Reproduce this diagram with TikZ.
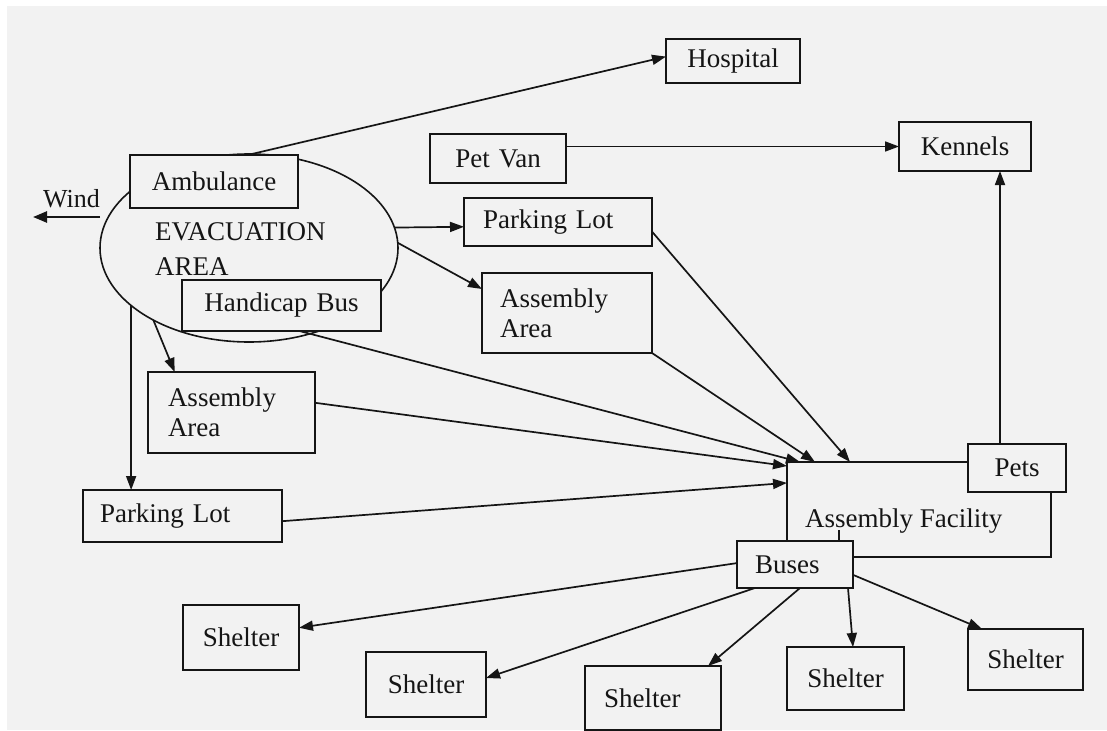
\documentclass[tikz,border=0pt]{standalone}
\usepackage{fontspec}
\setmainfont{Liberation Serif}
\usetikzlibrary{shapes.geometric,arrows.meta,calc}
\definecolor{bg}{HTML}{F2F2F2}
\definecolor{ln}{HTML}{151515}
\newcommand\fsz{\fontsize{27}{30}\selectfont}
\begin{document}
\begin{tikzpicture}[x=1pt,y=-1pt,
  box/.style={draw=ln, fill=bg, line width=1.8pt, anchor=north west, inner ysep=0pt, outer sep=0pt, font=\fsz, text=ln},
  conn/.style={draw=ln, line width=1.7pt, -{Triangle[length=14pt,width=10pt]}},
  lbl/.style={anchor=base west, font=\fsz, text=ln, inner sep=0pt}]
\useasboundingbox (0,0) rectangle (1107,730);
\fill[white] (0,0) rectangle (1107,730);
\fill[bg] (7,6) rectangle (1107,730);
% evacuation area
\node[ellipse, draw=ln, line width=1.6pt, minimum width=298pt, minimum height=188pt, inner sep=0pt, outer sep=0pt] (ev) at (249,248) {};
\node[lbl] (ev1) at (155,240) {EVACUATION};
\node[lbl] (ev2) at (155,275) {AREA};
% boxes
\node[box, inner xsep=0pt, text width=134pt, align=center, minimum height=44pt] (hosp) at (666,39) {Hospital};
\node[box, inner xsep=0pt, text width=136pt, align=center, minimum height=49pt] (pet) at (430,134) {Pet Van};
\node[box, inner xsep=0pt, text width=132pt, align=center, minimum height=49pt] (ken) at (899,122) {Kennels};
\node[box, inner xsep=0pt, text width=168pt, align=center, minimum height=53pt] (amb) at (130,155) {Ambulance};
\node[box, inner xsep=0pt, text width=199pt, align=center, minimum height=51pt] (hb) at (182,280) {Handicap Bus};
\node[box, inner xsep=19pt, text width=150pt, align=left, minimum height=48pt] (pt) at (464,198) {Parking Lot};
\node[box, inner xsep=18pt, text width=134pt, align=left, minimum height=80pt] (aat) at (482,273) {Assembly\\Area};
\node[box, inner xsep=20pt, text width=127pt, align=left, minimum height=81pt] (aal) at (148,372) {Assembly\\Area};
\node[box, inner xsep=17pt, text width=165pt, align=left, minimum height=52pt] (pb) at (83,490) {Parking Lot};
\node[box, inner xsep=0pt, minimum width=264pt, minimum height=95pt] (af) at (787,462) {};
\node[lbl] (aft) at (805,527) {Assembly Facility};
\node[box, inner xsep=0pt, text width=98pt, align=center, minimum height=48pt] (pets) at (968,444) {Pets};
\node[box, inner xsep=18pt, text width=80pt, align=left, minimum height=47pt] (bus) at (737,541) {Buses};
\node[box, inner xsep=0pt, text width=116pt, align=center, minimum height=65pt] (s1) at (183,605) {Shelter};
\node[box, inner xsep=0pt, text width=120pt, align=center, minimum height=65pt] (s2) at (366,652) {Shelter};
\node[box, inner xsep=19pt, text width=98pt, align=left, minimum height=64pt] (s3) at (585,666) {Shelter};
\node[box, inner xsep=0pt, text width=117pt, align=center, minimum height=63pt] (s4) at (787,647) {Shelter};
\node[box, inner xsep=0pt, text width=115pt, align=center, minimum height=61pt] (s5) at (968,629) {Shelter};
% wind
\node[anchor=base west, font=\fontsize{26}{30}\selectfont, text=ln, inner sep=0pt] (wind) at (43,207) {Wind};
\coordinate (wt) at (100,217);
\coordinate (wh) at (33,217);
\draw[draw=ln, line width=2.5pt, -{Triangle[length=14pt,width=11pt]}] (wt) -- (wh);
% connectors
\draw[conn] ($(amb.north west)!0.7!(amb.north east)$) -- ($(hosp.north west)!0.4!(hosp.south west)$);
\draw[conn] (pet.east |- ken.west) -- (ken.west);
\draw[conn] (ev.8) -- ($(pt.north west)!0.6!(pt.south west)$);
\draw[conn] (ev.2) -- ($(aat.north west)!0.2!(aat.south west)$);
\draw[conn] (ev.217) -- ($(aal.north west)!0.16!(aal.north east)$);
\draw[conn] (ev.206) -- (ev.206 |- pb.north);
\draw[conn] ($(hb.south west)!0.59!(hb.south east)$) -- ($(af.north west)+(13,0)$);
\draw[conn] ($(aal.north east)!0.38!(aal.south east)$) -- ($(af.north west)+(0,4)$);
\draw[conn] ($(pb.north east)!0.6!(pb.south east)$) -- ($(af.north west)!0.22!(af.south west)$);
\draw[conn] ($(pt.north east)!0.7!(pt.south east)$) -- ($(af.north west)+(63,0)$);
\draw[conn] (aat.south east) -- ($(af.north west)+(28,0)$);
\coordinate (pk) at ($(pets.north west)+(32,0)$);
\draw[conn] (pk) -- (pk |- ken.south);
\draw[draw=ln, line width=1.5pt] ($(bus.north west)+(102,0)$) -- ++(0,-11);
\draw[conn] ($(bus.north west)!0.47!(bus.south west)$) -- ($(s1.north east)!0.35!(s1.south east)$);
\draw[conn] ($(bus.south west)+(18,0)$) -- ($(s2.north east)!0.4!(s2.south east)$);
\draw[conn] ($(bus.south west)+(63,0)$) -- ($(s3.north west)+(123,0)$);
\draw[conn] ($(bus.south west)+(111,0)$) -- ($(s4.north west)+(66,0)$);
\draw[conn] ($(bus.north east)!0.72!(bus.south east)$) -- ($(s5.north west)+(14,0)$);
\end{tikzpicture}
\end{document}
